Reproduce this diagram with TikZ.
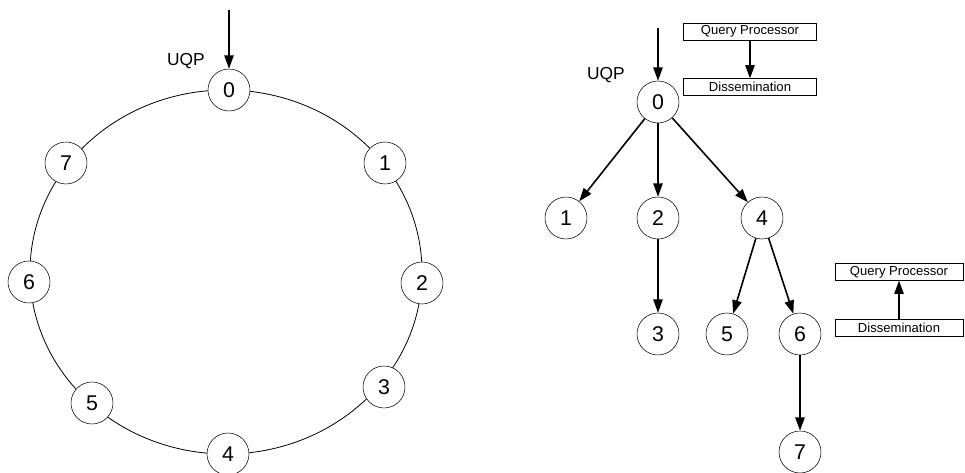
\documentclass[tikz,border=0pt]{standalone}
\usepackage{fontspec}
\setmainfont{Liberation Sans}
\usetikzlibrary{arrows.meta}

\tikzset{
    peer/.style={draw, circle, fill=white, minimum size=31.5pt, inner sep=0pt, font=\fontsize{16}{16}\selectfont},
    layer/.style={draw, rectangle, minimum width=100pt, minimum height=12.5pt, inner sep=0pt, font=\fontsize{9.8}{10}\selectfont},
    flow/.style={-{Triangle[width=7pt,length=10pt]}, line width=1.2pt}
}

\begin{document}
\begin{tikzpicture}[x=0.75pt, y=-0.75pt]
        \useasboundingbox (0,0) rectangle (965,473);

        % ring
        \draw[line width=0.6pt] (226,272) ellipse (196 and 182);
        \node[peer] (r0) at (229,90) {0};
        \node[peer] (r1) at (385,163) {1};
        \node[peer] (r2) at (422,283) {2};
        \node[peer] (r3) at (384,387) {3};
        \node[peer] (r4) at (228,454) {4};
        \node[peer] (r5) at (92,403) {5};
        \node[peer] (r6) at (29,282) {6};
        \node[peer] (r7) at (66,163) {7};
        \coordinate (rin) at (229,10);
        \draw[flow] (rin) -- (r0);
        \node[font=\fontsize{13}{13}\selectfont] (ruqp) at (186,61) {UQP};

        % tree
        \node[peer] (t0) at (658,102) {0};
        \node[peer] (t1) at (566,218) {1};
        \node[peer] (t2) at (658,218) {2};
        \node[peer] (t4) at (762,218) {4};
        \node[peer] (t3) at (658,334) {3};
        \node[peer] (t5) at (727,334) {5};
        \node[peer] (t6) at (800,334) {6};
        \node[peer] (t7) at (800,452) {7};
        \coordinate (tin) at (658,28);
        \draw[flow] (tin) -- (t0);
        \node[font=\fontsize{13}{13}\selectfont] (tuqp) at (606,75) {UQP};
        \draw[flow] (t0) -- (t1);
        \draw[flow] (t0) -- (t2);
        \draw[flow] (t0) -- (t4);
        \draw[flow] (t2) -- (t3);
        \draw[flow] (t4) -- (t5);
        \draw[flow] (t4) -- (t6);
        \draw[flow] (t6) -- (t7);

        % layers
        \node[layer] (qp0) at (750,31.5) {Query Processor};
        \node[layer] (ds0) at (750,87) {Dissemination};
        \draw[flow] (qp0) -- (ds0);
        \node[layer, minimum width=96pt] (qp6) at (899,272) {Query Processor};
        \node[layer, minimum width=96pt] (ds6) at (899,328) {Dissemination};
        \draw[flow] (ds6) -- (qp6);
    \end{tikzpicture}
\end{document}
